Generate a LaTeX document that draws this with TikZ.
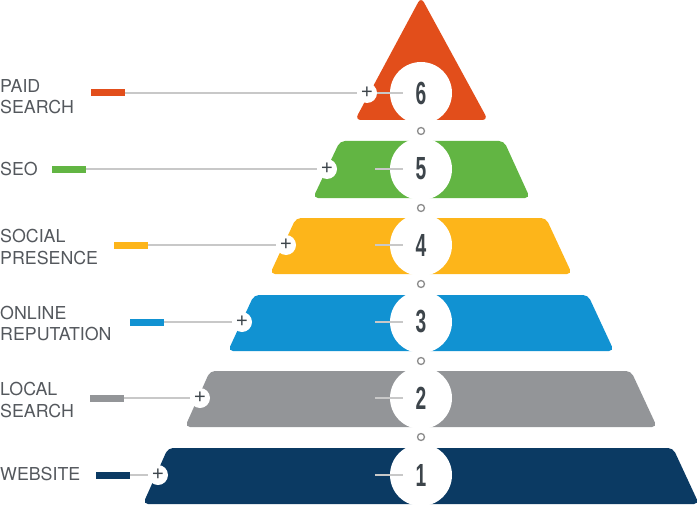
\documentclass[tikz,border=0pt]{standalone}
\usepackage{fontspec}
\setmainfont{TeX Gyre Heros}
\newfontfamily\numfont{Liberation Sans}
\definecolor{paidorange}{HTML}{E24E1B}
\definecolor{seogreen}{HTML}{62B543}
\definecolor{socialyellow}{HTML}{FDB51A}
\definecolor{onlineblue}{HTML}{1192D2}
\definecolor{localgray}{HTML}{939598}
\definecolor{webnavy}{HTML}{0B3A63}
\definecolor{leadgray}{HTML}{C8C8C8}
\definecolor{ringgray}{HTML}{8C8C8C}
\definecolor{numgray}{HTML}{3D454B}
\definecolor{tagcolor}{HTML}{54585D}
\begin{document}
\begin{tikzpicture}[x=1pt,y=-1pt,
  tier/.style={rounded corners=5pt},
  bar/.style={minimum width=34pt,minimum height=7pt,inner sep=0pt},
  lead/.style={draw=leadgray,line width=2pt},
  plus/.style={circle,fill=white,minimum size=20pt,inner sep=0pt,text=numgray,font=\numfont\fontsize{20}{20}\selectfont},
  num/.style={circle,fill=white,minimum size=62pt,inner sep=0pt,text=numgray,font=\numfont\bfseries\fontsize{32}{32}\selectfont},
  ring/.style={circle,draw=ringgray,fill=white,line width=1.3pt,minimum size=7pt,inner sep=0pt},
  tagtext/.style={inner sep=0pt,align=left,text=tagcolor,font=\fontsize{17.8}{21.3}\selectfont}]
\useasboundingbox (0,0) rectangle (700,505);
% pyramid tiers
\fill[paidorange,rounded corners=6pt] (355,120) -- (421,-3) -- (488,120) -- cycle;
\fill[seogreen,tier] (313,198) -- (340,141) -- (504,141) -- (530,198) -- cycle;
\fill[socialyellow,tier] (270,274) -- (296,218) -- (546,218) -- (572,274) -- cycle;
\fill[onlineblue,tier] (228,351) -- (254,295) -- (588,295) -- (614,351) -- cycle;
\fill[localgray,tier] (185,427) -- (210,371) -- (631,371) -- (657,427) -- cycle;
\fill[webnavy,tier] (143,504) -- (168,448) -- (673,448) -- (699,504) -- cycle;
% numbers
\node[num] (num6) at (421,93) {\scalebox{0.6}[1]{6}};
\node[num] (num5) at (421,169) {\scalebox{0.6}[1]{5}};
\node[num] (num4) at (421,245) {\scalebox{0.6}[1]{4}};
\node[num] (num3) at (421,322) {\scalebox{0.6}[1]{3}};
\node[num] (num2) at (421,398) {\scalebox{0.6}[1]{2}};
\node[num] (num1) at (421,475) {\scalebox{0.6}[1]{1}};
\node[ring] (ring65) at (421,131) {};
\node[ring] (ring54) at (421,208) {};
\node[ring] (ring43) at (421,284) {};
\node[ring] (ring32) at (421,361) {};
\node[ring] (ring21) at (421,437) {};
% labels
\node[tagtext,anchor=north west] (tag6) at (0,78.9) {PAID\\SEARCH};
\node[tagtext,anchor=base west] (tag5) at (0,175.5) {SEO};
\node[tagtext,anchor=north west] (tag4) at (0,229.5) {SOCIAL\\PRESENCE};
\node[tagtext,anchor=north west] (tag3) at (0,305.5) {ONLINE\\REPUTATION};
\node[tagtext,anchor=north west] (tag2) at (0,382.2) {LOCAL\\SEARCH};
\node[tagtext,anchor=base west] (tag1) at (0,480) {WEBSITE};
\node[bar,fill=paidorange] (bar6) at (108,93) {};
\node[bar,fill=seogreen] (bar5) at (69,169) {};
\node[bar,fill=socialyellow] (bar4) at (131,245) {};
\node[bar,fill=onlineblue] (bar3) at (147,322) {};
\node[bar,fill=localgray] (bar2) at (107,398) {};
\node[bar,fill=webnavy] (bar1) at (113,475) {};
\node[plus] (plus6) at (367,93) {+};
\node[plus] (plus5) at (327,169) {+};
\node[plus] (plus4) at (286,245) {+};
\node[plus] (plus3) at (242,322) {+};
\node[plus] (plus2) at (200,398) {+};
\node[plus] (plus1) at (158,475) {+};
\draw[lead] (bar6) -- (plus6);
\draw[lead] (bar5) -- (plus5);
\draw[lead] (bar4) -- (plus4);
\draw[lead] (bar3) -- (plus3);
\draw[lead] (bar2) -- (plus2);
\draw[lead] (bar1) -- (plus1);
\draw[lead] (plus6) -- ([xshift=13pt]num6.west);
\draw[lead] ([xshift=-15pt]num5.west) -- ([xshift=13pt]num5.west);
\draw[lead] ([xshift=-15pt]num4.west) -- ([xshift=13pt]num4.west);
\draw[lead] ([xshift=-15pt]num3.west) -- ([xshift=13pt]num3.west);
\draw[lead] ([xshift=-15pt]num2.west) -- ([xshift=13pt]num2.west);
\draw[lead] ([xshift=-15pt]num1.west) -- ([xshift=13pt]num1.west);
\end{tikzpicture}
\end{document}
